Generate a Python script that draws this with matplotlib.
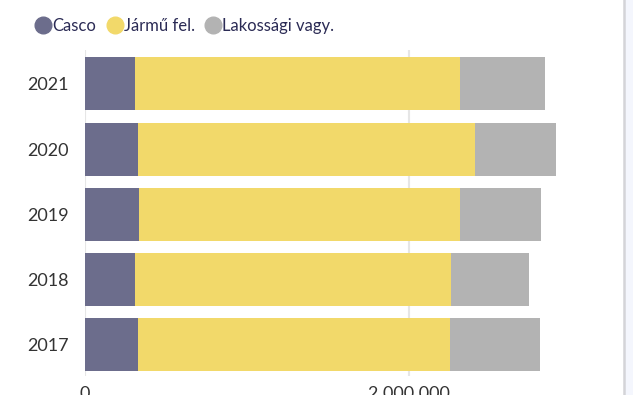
import numpy as np
import matplotlib.pyplot as plt
from matplotlib.patches import Rectangle
from matplotlib.lines import Line2D
from matplotlib.ticker import FuncFormatter

plt.rcParams['font.family'] = ['Lato', 'DejaVu Sans']

# premium volumes per insurance line
years = ['2017', '2018', '2019', '2020', '2021']
casco = [325000, 308600, 333000, 325000, 308600]
jarmu = [1928000, 1950700, 1981000, 2082000, 2006000]
lakossagi = [555600, 481500, 500000, 500000, 524700]

series_names = ['Casco', 'Jármű fel.', 'Lakossági vagy.']
series_colors = ['#6c6d8c', '#f2d96a', '#b3b3b3']

fig = plt.figure(figsize=(6.33, 3.95), dpi=100)
W, H = 633, 395
ax = fig.add_axes([85 / W, (H - 376) / H, 518 / W, 326 / H])

y = np.arange(len(years))
left = np.zeros(len(years))
for vals, name, col in zip([casco, jarmu, lakossagi], series_names, series_colors):
    ax.barh(y, vals, left=left, height=0.81, color=col, label=name, zorder=2)
    left += np.array(vals)

ax.set_xlim(0, 3200000)
ax.set_ylim(-0.48, 4.52)
ax.set_yticks(y)
ax.set_yticklabels(years)
ax.set_xticks([0, 2000000])
ax.xaxis.set_major_formatter(FuncFormatter(lambda v, p: f'{int(v):,}'.replace(',', ' ')))
ax.grid(axis='x', color='#e6e6e6', linewidth=1.5, zorder=0)
for s in ax.spines.values():
    s.set_visible(False)
ax.tick_params(axis='both', length=0, labelsize=13, colors='#333333')
ax.tick_params(axis='y', pad=12)
ax.tick_params(axis='x', pad=7)

# legend with round markers
handles = [Line2D([], [], marker='o', linestyle='', markersize=12,
                  markerfacecolor=c, markeredgecolor=c) for c in series_colors]
fig.legend(handles, series_names, loc='upper left', bbox_to_anchor=(20 / W, 1 - 3 / H),
           ncol=3, frameon=False, fontsize=12, handletextpad=0.05,
           columnspacing=0.6, handlelength=1.0, labelcolor='#2b2b55')

# side panel edge
fig.patches.append(Rectangle((625 / W, 0), 8 / W, 1, transform=fig.transFigure,
                             facecolor='#f4f6fd', edgecolor='none'))
fig.lines.append(Line2D([624 / W, 624 / W], [0, 1], transform=fig.transFigure,
                        color='#d4d4d8', linewidth=1.8))

fig.savefig('out.png', dpi=100)
